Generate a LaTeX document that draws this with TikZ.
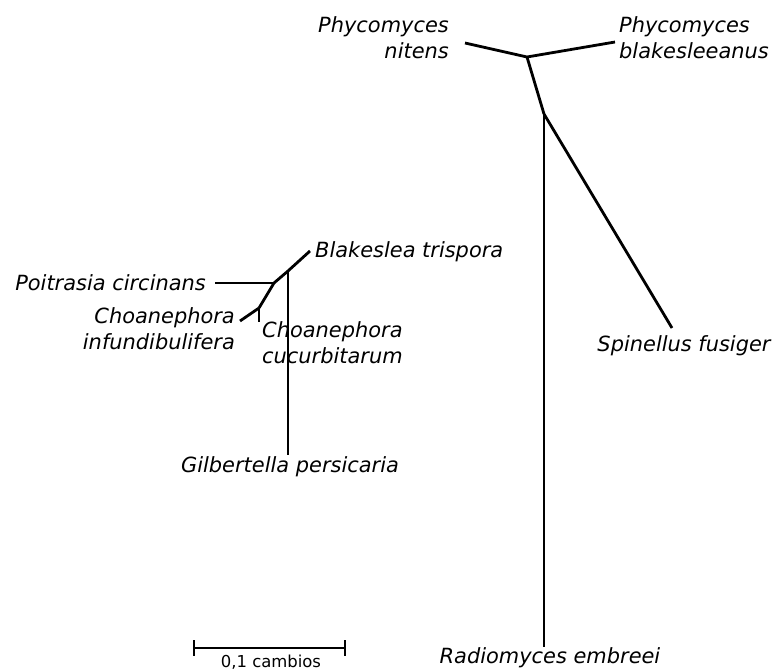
\documentclass[tikz,border=0pt]{standalone}
\usepackage{fontspec}
\setmainfont{DejaVu Sans}
\begin{document}
\begin{tikzpicture}[x=1bp,y=-1bp,
  branch/.style={line width=2.8bp, line cap=butt, line join=miter},
  taxon/.style={font=\fontsize{21}{26}\selectfont\itshape, inner sep=0pt, align=center},
  scalebar/.style={line width=2bp},
  scalelabel/.style={font=\fontsize{16.5}{18}\selectfont, inner sep=0pt}]
\useasboundingbox (0,0) rectangle (776,671);
% right tree
\coordinate (j1) at (527,57);
\coordinate (j2) at (544,114);
\coordinate (nit) at (465,43);
\coordinate (bla) at (615,42);
\coordinate (spi) at (672,328);
\coordinate (rad) at (544,647);
\draw[branch] (nit) -- (j1) -- (bla);
\draw[branch] (j1) -- (j2);
\draw[branch] (j2) -- (spi);
\draw[branch] (j2) -- (rad);
\node[taxon, anchor=east, align=right] (tnit) at (449,38) {Phycomyces\\nitens};
\node[taxon, anchor=west, align=left] (tbla) at (619,38) {Phycomyces\\blakesleeanus};
\node[taxon, anchor=base] (tspi) at (684,351) {Spinellus fusiger};
\node[taxon, anchor=base] (trad) at (550,663) {Radiomyces embreei};
% left tree
\coordinate (blk) at (310,251);
\coordinate (k1) at (288,271);
\coordinate (k2) at (274,283);
\coordinate (k3) at (259,308);
\coordinate (poi) at (215,283);
\coordinate (inf) at (240,321);
\coordinate (cuc) at (259,322);
\coordinate (gil) at (288,455);
\draw[branch] (blk) -- (k1) -- (k2) -- (k3);
\draw[branch] (poi) -- (k2);
\draw[branch] (k1) -- (gil);
\draw[branch] (k3) -- (inf);
\draw[branch] (k3) -- (cuc);
\node[taxon, anchor=west] (tblk) at (315,252) {Blakeslea trispora};
\node[taxon, anchor=east] (tpoi) at (206,283) {Poitrasia circinans};
\node[taxon, anchor=east, align=right] (tinf) at (235,329) {Choanephora\\infundibulifera};
\node[taxon, anchor=west, align=left] (tcuc) at (262,343) {Choanephora\\cucurbitarum};
\node[taxon] (tgil) at (290,467) {Gilbertella persicaria};
% scale bar
\coordinate (s1) at (194,648);
\coordinate (s2) at (345,648);
\draw[scalebar] (s1) -- (s2);
\draw[scalebar] ([yshift=-8]s1) -- ([yshift=8]s1);
\draw[scalebar] ([yshift=-8]s2) -- ([yshift=8]s2);
\node[scalelabel] (sl) at (271,662) {0,1 cambios};
\end{tikzpicture}
\end{document}
